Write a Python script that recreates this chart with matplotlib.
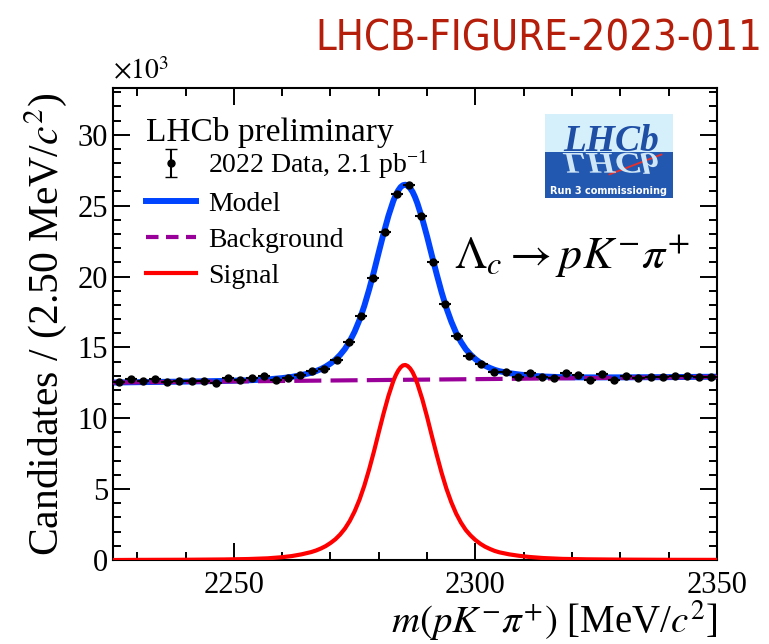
import numpy as np
import matplotlib
matplotlib.use("Agg")
import matplotlib.pyplot as plt
from matplotlib.lines import Line2D
from matplotlib.patches import Rectangle, PathPatch
from matplotlib.textpath import TextPath
from matplotlib.font_manager import FontProperties, fontManager
from matplotlib.transforms import Affine2D

plt.rcParams['font.family'] = 'serif'
plt.rcParams['font.serif'] = ['Liberation Serif', 'DejaVu Serif']
plt.rcParams['mathtext.fontset'] = 'stix'

# binning: 50 bins of 2.5 MeV from 2225 to 2350
bin_lo = 2225.0
bin_w = 2.5

# candidates per bin, in units of 10^3
counts = [12.53, 12.77, 12.60, 12.74, 12.53, 12.62, 12.65, 12.65, 12.51, 12.81,
          12.67, 12.86, 12.97, 12.72, 12.86, 13.07, 13.31, 13.48, 14.11, 15.37,
          17.18, 19.86, 23.12, 25.82, 26.48, 24.30, 21.01, 18.09, 15.77, 14.42,
          13.85, 13.26, 13.26, 12.88, 13.16, 12.88, 12.86, 13.17, 13.03, 12.72,
          13.14, 12.72, 12.98, 12.86, 12.88, 12.91, 13.00, 13.00, 12.91, 12.93]

# background (straight line) end points
bkg_x = [2225.0, 2350.0]
bkg_y = [12.52, 12.92]

# signal curve
sig_x = [2225, 2230, 2240, 2248, 2253, 2257, 2260, 2262, 2264, 2266,
         2267, 2268, 2269, 2270, 2271, 2272, 2273, 2274, 2275, 2276,
         2277, 2278, 2279, 2280, 2281, 2282, 2283, 2283.5, 2284, 2284.5,
         2285, 2285.5, 2286, 2286.5, 2287, 2287.5, 2288, 2289, 2290, 2291,
         2292, 2293, 2294, 2295, 2296, 2297, 2298, 2299, 2300, 2301,
         2302, 2303, 2304, 2305, 2307, 2309, 2311, 2314, 2318, 2323,
         2330, 2340, 2350]
sig_y = [0.0, 0.01, 0.02, 0.04, 0.07, 0.12, 0.2, 0.28, 0.4, 0.56,
         0.67, 0.81, 0.98, 1.20, 1.46, 1.80, 2.22, 2.76, 3.43, 4.25,
         5.24, 6.39, 7.66, 9.02, 10.35, 11.58, 12.62, 13.03, 13.35, 13.59,
         13.73, 13.76, 13.68, 13.51, 13.25, 12.88, 12.43, 11.35, 10.09, 8.73,
         7.41, 6.15, 5.03, 4.08, 3.28, 2.64, 2.12, 1.73, 1.41, 1.15,
         0.94, 0.78, 0.64, 0.54, 0.40, 0.30, 0.22, 0.14, 0.08, 0.05,
         0.03, 0.015, 0.01]

counts = np.array(counts)
centers = bin_lo + bin_w * (np.arange(len(counts)) + 0.5)
yerr = np.sqrt(counts * 1000.0) / 1000.0
sig_x = np.array(sig_x, dtype=float)
sig_y = np.array(sig_y)
model_y = sig_y + np.interp(sig_x, bkg_x, bkg_y)

fig = plt.figure(figsize=(7.69, 6.44), dpi=100)
ax = fig.add_axes([0.147, 0.1304, 0.7854, 0.733])

ax.plot(sig_x, model_y, color='#0044ff', lw=4.3, zorder=2)
ax.plot(bkg_x, bkg_y, color='#990099', lw=3, dashes=(6.5, 2.2), zorder=3)
ax.plot(sig_x, sig_y, color='#ff0000', lw=3, zorder=3)
ax.errorbar(centers, counts, xerr=bin_w / 2, yerr=yerr, fmt='o', color='black',
            ms=5, lw=1.5, capsize=0, zorder=4)

ax.set_xlim(2225, 2350)
ax.set_ylim(0, 33.3)
ax.set_xticks([2250, 2300, 2350])
ax.set_xticks(np.arange(2230, 2350, 10), minor=True)
ax.set_yticks(np.arange(0, 31, 5))
ax.set_yticks(np.arange(0, 34, 1), minor=True)
ax.tick_params(which='both', direction='in', top=True, right=True, width=1.4,
               labelsize=22)
ax.tick_params(which='major', length=12)
ax.tick_params(which='minor', length=5.5)
ax.tick_params(axis='x', pad=8)
for s in ax.spines.values():
    s.set_linewidth(1.5)

ax.set_xlabel(r'$m(pK^{-}\pi^{+})$ [MeV/$c^{2}$]', fontsize=28, loc='right',
              labelpad=-1)
ax.set_ylabel(r'Candidates / (2.50 MeV/$c^{2}$)', fontsize=30, labelpad=6)
ax.text(0.0, 1.005, r'$\times10^{3}$', transform=ax.transAxes, fontsize=20,
        ha='left', va='bottom')

# legend
h_data = ax.errorbar([np.nan], [np.nan], yerr=[1], fmt='o', color='black',
                     ms=5, lw=1.5, capsize=4)
h_model = Line2D([], [], color='#0044ff', lw=4.3)
h_bkg = Line2D([], [], color='#990099', lw=3, dashes=(3, 1.8))
h_sig = Line2D([], [], color='#ff0000', lw=3)
leg = ax.legend([h_data, h_model, h_bkg, h_sig],
                [r'2022 Data, 2.1 pb$^{\mathregular{-1}}$', 'Model', 'Background', 'Signal'],
                loc='upper left', bbox_to_anchor=(0.036, 0.962), frameon=False,
                fontsize=20, handlelength=1.8, handletextpad=0.43,
                labelspacing=0.38, title='LHCb preliminary',
                title_fontproperties={'size': 24, 'family': 'serif'},
                alignment='left', borderaxespad=0.0)
leg._legend_box.sep = 0  # pull entries closer to the title

ax.text(0.565, 0.617, r'$\Lambda_c \rightarrow pK^{-}\pi^{+}$', transform=ax.transAxes,
        fontsize=33, ha='left', va='baseline')

# LHCb logo
x0, x1, y0, ym, y1 = 0.715, 0.927, 0.767, 0.864, 0.945
ax.add_patch(Rectangle((x0, ym), x1 - x0, y1 - ym, transform=ax.transAxes,
                       facecolor='#d6f0fb', edgecolor='none', zorder=5))
ax.add_patch(Rectangle((x0, y0), x1 - x0, ym - y0, transform=ax.transAxes,
                       facecolor='#2358b0', edgecolor='none', zorder=5))
logo_fp = FontProperties(family='Liberation Serif', style='italic', weight='bold')
ax.text(0.745, ym + 0.002, 'LHCb', transform=ax.transAxes, fontproperties=logo_fp,
        fontsize=27, color='#1f4fa5', ha='left', va='baseline', zorder=6)
tp = TextPath((0, 0), 'LHCb', size=37.5, prop=logo_fp)
ref = PathPatch(tp, transform=Affine2D().scale(1.0, -0.8).translate(563, 644 - 153),
                facecolor='#cfe6f7', edgecolor='none', zorder=6)
fig.add_artist(ref)
ax.plot([0.822, 0.908], [0.817, 0.859], transform=ax.transAxes, color='#e8302a',
        lw=1.3, zorder=7)
ax.text((x0 + x1) / 2, 0.782, 'Run 3 commissioning', transform=ax.transAxes,
        fontsize=7, color='white', fontweight='bold', family='DejaVu Sans',
        ha='center', va='center', zorder=7)

# figure tag
condensed = any(f.name == 'DejaVu Sans' and f.stretch == 'condensed'
                for f in fontManager.ttflist)
names = {f.name for f in fontManager.ttflist}
if 'Liberation Sans Narrow' in names:
    tag_kw = dict(family='Liberation Sans Narrow', fontsize=34)
elif condensed:
    tag_kw = dict(family='DejaVu Sans', fontstretch='condensed', fontsize=30)
else:
    tag_kw = dict(family='DejaVu Sans', fontsize=27)
fig.text(0.991, 0.922, 'LHCB-FIGURE-2023-011', color='#b41e0a', ha='right',
         va='baseline', **tag_kw)

fig.savefig('out.png', dpi=100)
